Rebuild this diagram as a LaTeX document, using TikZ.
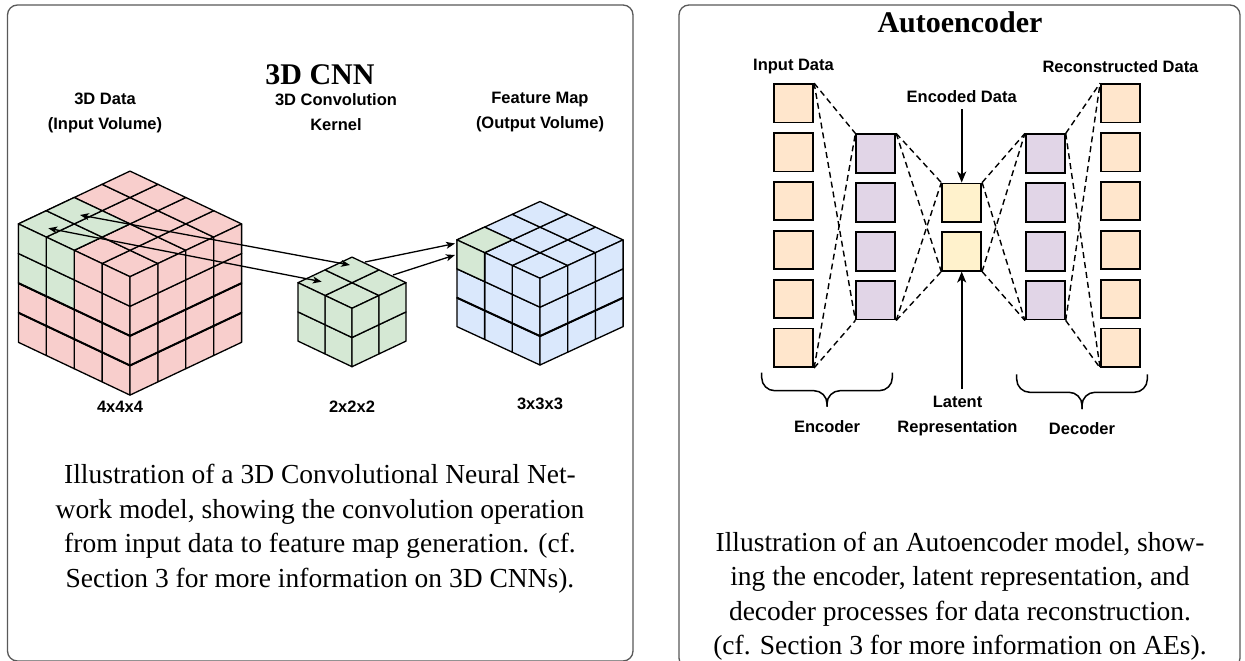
\documentclass[tikz,border=0pt]{standalone}
\usepackage{fontspec}
\setmainfont{Liberation Serif}
\newfontfamily\labfont{Liberation Sans}
\usetikzlibrary{arrows.meta}

\definecolor{cellred}{HTML}{F8CECC}
\definecolor{cellgreen}{HTML}{D5E8D4}
\definecolor{cellblue}{HTML}{DAE8FC}
\definecolor{aeorange}{HTML}{FFE6CC}
\definecolor{aepurple}{HTML}{E1D5E7}
\definecolor{aeyellow}{HTML}{FFF2CC}

\tikzset{
  panel/.style={draw=black!65, line width=1.3pt, rounded corners=10pt},
  titletext/.style={font=\fontsize{30}{34}\selectfont\bfseries},
  lab/.style={font=\labfont\fontsize{16.5}{25}\selectfont\bfseries, align=center, inner sep=0pt},
  captext/.style={font=\fontsize{27.5}{34.5}\selectfont, align=center, inner sep=0pt},
  cell/.style={draw=black, line width=1.3pt, line join=round},
  seam/.style={draw=black, line width=2pt, line join=round},
  cnnarrow/.style={line width=1.3pt, -{Stealth[length=9pt,width=7pt,inset=2.5pt]}},
  cnnboth/.style={line width=1.3pt, {Stealth[length=9pt,width=7pt,inset=2.5pt]}-{Stealth[length=9pt,width=7pt,inset=2.5pt]}},
  aebox/.style={draw=black, line width=1.8pt, minimum width=39pt, minimum height=38.5pt, inner sep=0pt},
  dashln/.style={line width=1.4pt, dash pattern=on 6pt off 4pt},
  aearrow/.style={line width=1.6pt, -{Stealth[length=11pt,width=9pt,inset=3pt]}},
  bracket/.style={line width=1.5pt, rounded corners=13pt},
}

% grid of an isometric cube: top face, left face (y=0) and right face (x=0)
\newcommand{\cubegrid}[2]{%
  \foreach \ci in {1,...,#1}{%
    \foreach \cj in {1,...,#1}{%
      \filldraw[cell, fill=#2] (\ci-1,\cj-1,#1) -- (\ci,\cj-1,#1) -- (\ci,\cj,#1) -- (\ci-1,\cj,#1) -- cycle;
      \filldraw[cell, fill=#2] (\ci-1,0,\cj-1) -- (\ci,0,\cj-1) -- (\ci,0,\cj) -- (\ci-1,0,\cj) -- cycle;
      \filldraw[cell, fill=#2] (0,\ci-1,\cj-1) -- (0,\ci,\cj-1) -- (0,\ci,\cj) -- (0,\ci-1,\cj) -- cycle;
    }}}
% one highlighted cell on the top face / on the left face
\newcommand{\cnntop}[4]{\filldraw[cell, fill=#4] (#1,#2,#3) -- (#1+1,#2,#3) -- (#1+1,#2+1,#3) -- (#1,#2+1,#3) -- cycle;}
\newcommand{\cnnleft}[3]{\filldraw[cell, fill=#3] (#1,0,#2) -- (#1+1,0,#2) -- (#1+1,0,#2+1) -- (#1,0,#2+1) -- cycle;}

\begin{document}
\begin{tikzpicture}[x=1pt, y=-1pt]
\useasboundingbox (0,0) rectangle (1245,661);
\fill[white] (0,0) rectangle (1245,661);

% ---------------- panels ----------------
\draw[panel] (7.5,5) rectangle (633,661);
\draw[panel] (679,5) rectangle (1240,668);

% ================= 3D CNN =================
\node[titletext] (cnntitle) at (320,75) {3D CNN};
\node[lab] (inlab) at (105,112.5) {3D Data\\(Input Volume)};
\node[lab] (kerlab) at (336,112.5) {3D Convolution\\Kernel};
\node[lab] (fmlab) at (540,112.5) {Feature Map\\(Output Volume)};

% input volume 4x4x4
\begin{scope}[shift={(130,395.1)}, x={(-27.9pt,13.2pt)}, y={(27.9pt,13.2pt)}, z={(0pt,29.6pt)}]
  \cubegrid{4}{cellred}
  \foreach \a in {2,3}{\foreach \b in {0,1}{\cnntop{\a}{\b}{4}{cellgreen}}}
  \foreach \a in {2,3}{\foreach \b in {2,3}{\cnnleft{\a}{\b}{cellgreen}}}
  \draw[seam] (4,0,2) -- (0,0,2) -- (0,4,2);
  \draw[seam] (4,0,1) -- (0,0,1) -- (0,4,1);
\end{scope}

% kernel 2x2x2
\begin{scope}[shift={(352,366.7)}, x={(-27pt,12.8pt)}, y={(27pt,12.8pt)}, z={(0pt,29.2pt)}]
  \cubegrid{2}{cellgreen}
\end{scope}

% output volume 3x3x3
\begin{scope}[shift={(540,365)}, x={(-27.7pt,12.8pt)}, y={(27.7pt,12.8pt)}, z={(0pt,28.9pt)}]
  \cubegrid{3}{cellblue}
  \cnntop{2}{0}{3}{cellgreen}
  \cnnleft{2}{2}{cellgreen}
  \draw[seam] (3,0,1) -- (0,0,1) -- (0,3,1);
\end{scope}

% arrow end points
\coordinate (inA) at (80,215);
\coordinate (inB) at (48.3,228.3);
\coordinate (kerA) at (350,265);
\coordinate (kerB) at (321.7,281.7);
\coordinate (kerC) at (365,262);
\coordinate (kerD) at (393,275);
\coordinate (fmA) at (455,243.5);
\coordinate (fmB) at (455,255);
\draw[cnnboth] (inA) -- (kerA);
\draw[cnnboth] (inB) -- (kerB);
\draw[cnnarrow] (kerC) -- (fmA);
\draw[cnnarrow] (kerD) -- (fmB);

\node[lab] (dimin) at (120,407) {4x4x4};
\node[lab] (dimker) at (352,407) {2x2x2};
\node[lab] (dimfm) at (540,404) {3x3x3};

\node[captext] (cnncap) at (320,528.5) {Illustration of a 3D Convolutional Neural Net-\\
work model, showing the convolution operation\\
from input data to feature map generation. (cf.\\
Section 3 for more information on 3D CNNs).};

% ================= Autoencoder =================
\node[titletext] (aetitle) at (960,22) {Autoencoder};
\node[lab] (inputlab) at (793.5,66.5) {Input Data};
\node[lab] (reclab) at (1120.5,66.5) {Reconstructed Data};
\node[lab] (enclab) at (961.7,97) {Encoded Data};

\foreach \n/\yy in {1/103.3,2/152.2,3/201.1,4/250,5/298.9,6/347.8}{
  \node[aebox, fill=aeorange] (o\n) at (793.7,\yy) {};
  \node[aebox, fill=aeorange] (r\n) at (1120.5,\yy) {};
}
\foreach \n/\yy in {1/153.6,2/202.5,3/251.4,4/300.3}{
  \node[aebox, fill=aepurple] (p\n) at (875.8,\yy) {};
  \node[aebox, fill=aepurple] (q\n) at (1045.3,\yy) {};
}
\node[aebox, fill=aeyellow] (y1) at (961.7,202.7) {};
\node[aebox, fill=aeyellow] (y2) at (961.7,251.4) {};

% fully connected stages
\draw[dashln] (o1.north east) -- (p1.north west);
\draw[dashln] (o1.north east) -- (p4.south west);
\draw[dashln] (o6.south east) -- (p4.south west);
\draw[dashln] (o6.south east) -- (p1.north west);

\draw[dashln] (p1.north east) -- (y1.north west);
\draw[dashln] (p1.north east) -- (y2.south west);
\draw[dashln] (p4.south east) -- (y2.south west);
\draw[dashln] (p4.south east) -- (y1.north west);

\draw[dashln] (y1.north east) -- (q1.north west);
\draw[dashln] (y1.north east) -- (q4.south west);
\draw[dashln] (y2.south east) -- (q4.south west);
\draw[dashln] (y2.south east) -- (q1.north west);

\draw[dashln] (q1.north east) -- (r1.north west);
\draw[dashln] (q1.north east) -- (r6.south west);
\draw[dashln] (q4.south east) -- (r6.south west);
\draw[dashln] (q4.south east) -- (r1.north west);

% latent arrows
\coordinate (encstart) at (961.7,109);
\coordinate (latstart) at (961.7,389);
\draw[aearrow] (encstart) -- (y1.north);
\draw[aearrow] (latstart) -- (y2.south);

% braces
\draw[bracket] (761.7,372.7) |- (827,390.7) -- (827,406.7);
\draw[bracket] (892.3,372.7) |- (827,390.7) -- (827,406.7);
\draw[bracket] (1016.7,374.3) |- (1082,392.3) -- (1082,409);
\draw[bracket] (1147.3,374.3) |- (1082,392.3) -- (1082,409);

\node[lab] (enclabel) at (827,427) {Encoder};
\node[lab] (latlabel) at (957.5,416) {Latent\\Representation};
\node[lab] (declabel) at (1082,429) {Decoder};

\node[captext] (aecap) at (960,596) {Illustration of an Autoencoder model, show-\\
ing the encoder, latent representation, and\\
decoder processes for data reconstruction.\\
(cf. Section 3 for more information on AEs).};
\end{tikzpicture}
\end{document}
